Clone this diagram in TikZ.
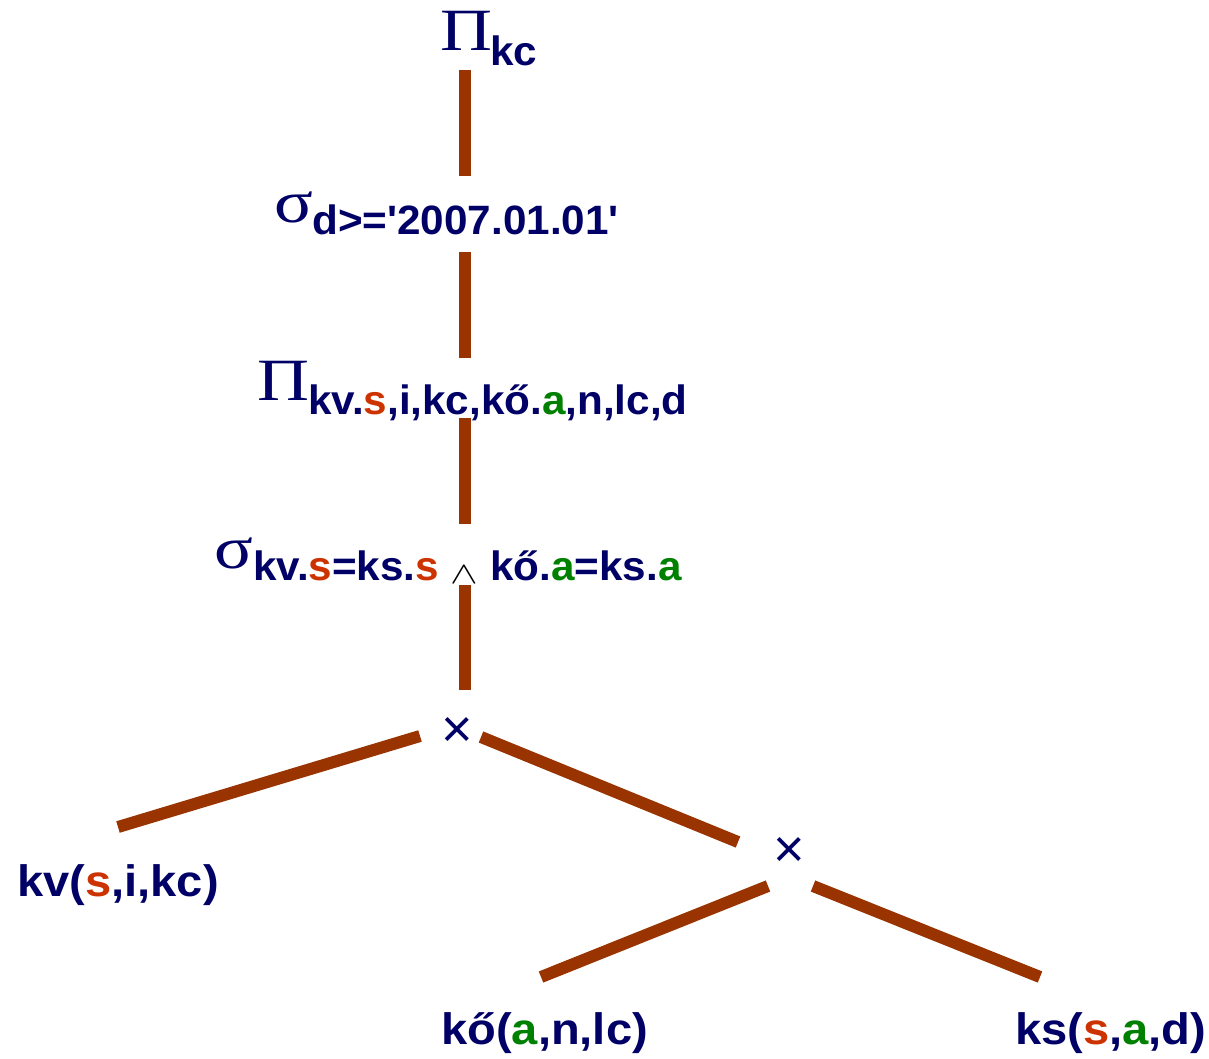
\documentclass[tikz,border=0pt]{standalone}
\usepackage{fontspec}
\newfontfamily\lab{Liberation Sans}[FakeStretch=1.03]
\newfontfamily\labb{Liberation Sans}[FakeStretch=1.07]
\newfontfamily\grk{Liberation Serif}[FakeStretch=1.2]
\newfontfamily\crossf{Liberation Sans}
\definecolor{navy}{RGB}{0,0,102}
\definecolor{brn}{RGB}{153,51,0}
\definecolor{ora}{RGB}{204,51,0}
\definecolor{grn}{RGB}{0,128,0}
\newcommand{\So}{\textcolor{ora}{s}}
\newcommand{\Ag}{\textcolor{grn}{a}}
\newcommand{\andsym}{{\fontsize{20}{20}\selectfont\color{black}\raisebox{-3pt}{\scalebox{2}[1.5]{$\wedge$}}}}
\begin{document}
\begin{tikzpicture}[x=1pt,y=-1pt,
  edge/.style={draw=brn, line width=12pt},
  opsym/.style={inner sep=0pt, anchor=base west, text=navy, font=\grk\fontsize{60}{60}\selectfont},
  sub/.style={inner sep=0pt, anchor=base west, text=navy, font=\lab\bfseries\fontsize{41}{41}\selectfont},
  rel/.style={inner sep=0pt, anchor=base west, text=navy, font=\labb\bfseries\fontsize{44}{44}\selectfont},
  crossop/.style={inner sep=0pt, anchor=center, text=navy, font=\crossf\fontsize{54}{54}\selectfont}]
\useasboundingbox (0,0) rectangle (1209,1058);
% top projection
\node[opsym] (p1) at (440,50) {Π};
\node[sub] (p1s) at (490,65) {kc};
% selection on date
\node[opsym] (s1) at (274,222) {σ};
\node[sub] (s1s) at (312,234) {d>='2007.01.01'};
% projection
\node[opsym] (p2) at (257,400) {Π};
\node[sub] (p2s) at (308,414) {kv.\So,i,kc,kő.\Ag,n,lc,d};
% join selection
\node[opsym] (s2) at (214,568) {σ};
\node[sub] (s2s) at (253,580) {kv.\So=ks.\So\ \andsym\ kő.\Ag=ks.\Ag};
% cross products
\node[crossop] (x1) at (457,732) {×};
\node[crossop] (x2) at (789,852) {×};
% relations
\node[rel] (kv) at (17,896) {kv(\So,i,kc)};
\node[rel] (ko) at (441,1044) {kő(\Ag,n,lc)};
\node[rel] (ks) at (1015,1044) {ks(\So,\Ag,d)};
% connector end points
\coordinate (a1) at (465,70);  \coordinate (a2) at (465,176);
\coordinate (b1) at (465,252); \coordinate (b2) at (465,358);
\coordinate (c1) at (465,418); \coordinate (c2) at (465,524);
\coordinate (d1) at (465,585); \coordinate (d2) at (465,690);
\coordinate (e1) at (420,736); \coordinate (e2) at (118,827);
\coordinate (f1) at (481,737); \coordinate (f2) at (738,842);
\coordinate (g1) at (768,886); \coordinate (g2) at (541,977);
\coordinate (h1) at (813,886); \coordinate (h2) at (1040,977);
\draw[edge] (a1) -- (a2);
\draw[edge] (b1) -- (b2);
\draw[edge] (c1) -- (c2);
\draw[edge] (d1) -- (d2);
\draw[edge] (e1) -- (e2);
\draw[edge] (f1) -- (f2);
\draw[edge] (g1) -- (g2);
\draw[edge] (h1) -- (h2);
\end{tikzpicture}
\end{document}
